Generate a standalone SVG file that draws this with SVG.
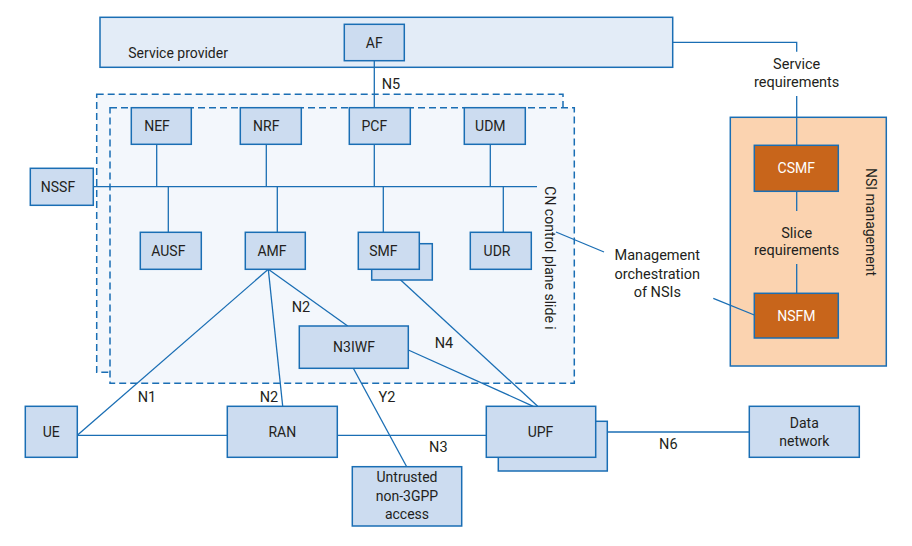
<svg xmlns="http://www.w3.org/2000/svg" width="912" height="546" viewBox="0 0 912 546">
<style>
  text { font-family: Roboto, "Liberation Sans", sans-serif; fill: #231f20; }
  .lbl { font-size: 14px; text-anchor: middle; }
  .t { font-size: 14.5px; text-anchor: middle; }
  .box { fill: #ccdcf0; stroke: #1a6eb4; stroke-width: 1.5; }
  .org { fill: #c8651b; stroke: #1a6eb4; stroke-width: 1.5; }
  .wt { fill: #ffffff; font-size: 14px; text-anchor: middle; }
  .dash { fill: #f3f7fc; stroke: #1a6eb4; stroke-width: 1.5; stroke-dasharray: 7 4; }
  .ln { stroke: #1a6eb4; stroke-width: 1.3; fill: none; }
</style>

<g id="service-provider">
  <rect x="100" y="17.3" width="572.7" height="50" fill="#e3ecf7" stroke="#1a6eb4" stroke-width="1.5"/>
  <text x="128.3" y="57.5" style="font-size:14px">Service provider</text>
</g>

<g id="cn-slice">
  <rect class="dash" x="96.7" y="94.3" width="466.3" height="278"/>
  <rect class="dash" x="110" y="107.7" width="464.3" height="275.6"/>
  <text class="lbl" transform="translate(545,258) rotate(90)" x="0" y="0">CN control plane slide i</text>
</g>

<g id="nsi-management">
  <rect x="730.3" y="117.3" width="156" height="248.7" fill="#fbd3b0" stroke="#1a6eb4" stroke-width="1.5"/>
  <text class="lbl" transform="translate(865.5,222) rotate(90)" x="0" y="0">NSI management</text>
</g>

<g id="connectors">
  <!-- N5 -->
  <line class="ln" x1="374.3" y1="60.7" x2="374.3" y2="107.7"/>
  <!-- bus -->
  <line class="ln" x1="93.3" y1="186.7" x2="537" y2="186.7"/>
  <line class="ln" x1="156.7" y1="144.3" x2="156.7" y2="186.7"/>
  <line class="ln" x1="266.3" y1="144.3" x2="266.3" y2="186.7"/>
  <line class="ln" x1="374.3" y1="144.3" x2="374.3" y2="186.7"/>
  <line class="ln" x1="490.3" y1="144.3" x2="490.3" y2="186.7"/>
  <line class="ln" x1="168.3" y1="186.7" x2="168.3" y2="232.3"/>
  <line class="ln" x1="277.3" y1="186.7" x2="277.3" y2="232.3"/>
  <line class="ln" x1="383.3" y1="186.7" x2="383.3" y2="232.3"/>
  <line class="ln" x1="503.3" y1="186.7" x2="503.3" y2="232.3"/>
  <!-- AMF lines -->
  <line class="ln" x1="268.3" y1="269.3" x2="77.3" y2="435.3"/>
  <line class="ln" x1="268.3" y1="269.3" x2="282.7" y2="406.3"/>
  <line class="ln" x1="268.3" y1="269.3" x2="347.7" y2="326"/>
  <!-- SMF to UPF (N4) -->
  <line class="ln" x1="389" y1="269.3" x2="537.7" y2="406.3"/>
  <!-- N3IWF to UPF -->
  <line class="ln" x1="408.3" y1="350" x2="533.3" y2="406.3"/>
  <!-- Y2 -->
  <line class="ln" x1="353.3" y1="368.3" x2="406.7" y2="466.7"/>
  <!-- UE-RAN, RAN-UPF -->
  <line class="ln" x1="77.3" y1="435.3" x2="227.3" y2="435.3"/>
  <line class="ln" x1="337.3" y1="435.3" x2="486.3" y2="435.3"/>
  <!-- N6 -->
  <line class="ln" x1="595.7" y1="432" x2="749.3" y2="432"/>
  <!-- service provider to CSMF -->
  <polyline class="ln" points="672.7,42.3 796.7,42.3 796.7,51.7"/>
  <line class="ln" x1="796.7" y1="96" x2="796.7" y2="145.3"/>
  <line class="ln" x1="796.7" y1="191.3" x2="796.7" y2="211"/>
  <line class="ln" x1="796.7" y1="264" x2="796.7" y2="293.3"/>
  <!-- management leaders -->
  <line class="ln" x1="556" y1="232" x2="604" y2="252"/>
  <line class="ln" x1="713.3" y1="298.3" x2="754.3" y2="315"/>
</g>

<g id="labels">
  <text class="t" x="391" y="88.5">N5</text>
  <text class="t" x="301" y="312">N2</text>
  <text class="t" x="444" y="348">N4</text>
  <text class="t" x="147" y="402">N1</text>
  <text class="t" x="269" y="402">N2</text>
  <text class="t" x="387" y="402">Y2</text>
  <text class="t" x="438.3" y="452">N3</text>
  <text class="t" x="668.3" y="448.5">N6</text>
  <text class="t" x="796.7" y="68.5">Service</text>
  <text class="t" x="796.7" y="86.8">requirements</text>
  <text class="t" x="796.7" y="238">Slice</text>
  <text class="t" x="796.7" y="255.3">requirements</text>
  <text class="t" x="657.3" y="260.2">Management</text>
  <text class="t" x="657.3" y="279">orchestration</text>
  <text class="t" x="657.3" y="297">of NSIs</text>
</g>

<g id="AF"><rect class="box" x="344.3" y="24.3" width="60" height="36.4"/><text class="lbl" x="374.3" y="47.5">AF</text></g>
<g id="NSSF"><rect class="box" x="30.3" y="168.3" width="63" height="37"/><text class="lbl" x="58" y="191.8">NSSF</text></g>
<g id="NEF"><rect class="box" x="131.3" y="107.7" width="60" height="36.6"/><text class="lbl" x="157" y="131">NEF</text></g>
<g id="NRF"><rect class="box" x="240.3" y="107.7" width="61" height="36.6"/><text class="lbl" x="266.3" y="131">NRF</text></g>
<g id="PCF"><rect class="box" x="349.3" y="107.7" width="61" height="36.6"/><text class="lbl" x="374.3" y="131">PCF</text></g>
<g id="UDM"><rect class="box" x="464.3" y="107.7" width="61" height="36.6"/><text class="lbl" x="490.3" y="131">UDM</text></g>
<g id="AUSF"><rect class="box" x="140.3" y="232.3" width="61" height="37"/><text class="lbl" x="168.3" y="255.8">AUSF</text></g>
<g id="AMF"><rect class="box" x="245.3" y="232.3" width="60" height="37"/><text class="lbl" x="272" y="255.8">AMF</text></g>
<g id="SMF">
  <rect class="box" x="371.7" y="243.7" width="60.6" height="36.3"/>
  <rect class="box" x="358.3" y="232.3" width="61" height="37"/>
  <text class="lbl" x="383.3" y="255.8">SMF</text>
</g>
<g id="UDR"><rect class="box" x="470.3" y="232.3" width="61" height="37"/><text class="lbl" x="497" y="255.8">UDR</text></g>
<g id="N3IWF"><rect class="box" x="299.3" y="326" width="109" height="42.3"/><text class="lbl" x="354" y="352">N3IWF</text></g>
<g id="CSMF"><rect class="org" x="754.3" y="145.3" width="84" height="46"/><text class="wt" x="796.3" y="173.3">CSMF</text></g>
<g id="NSFM"><rect class="org" x="754.3" y="293.3" width="84" height="44.7"/><text class="wt" x="796.3" y="320.7">NSFM</text></g>
<g id="UE"><rect class="box" x="25.3" y="406.3" width="52" height="51"/><text class="lbl" x="51.3" y="437">UE</text></g>
<g id="RAN"><rect class="box" x="227.3" y="406.3" width="110" height="51"/><text class="lbl" x="282.3" y="437">RAN</text></g>
<g id="UPF">
  <rect class="box" x="498.3" y="421.3" width="109" height="49.7"/>
  <rect class="box" x="486.3" y="406.3" width="109.4" height="51"/>
  <text class="lbl" x="540.5" y="437">UPF</text>
</g>
<g id="Data-network"><rect class="box" x="749.3" y="406.3" width="110" height="51"/><text class="lbl" x="804.3" y="427.5">Data</text><text class="lbl" x="804.3" y="446">network</text></g>
<g id="Untrusted"><rect class="box" x="352.3" y="466.7" width="109.4" height="59.3"/><text class="lbl" x="407" y="482">Untrusted</text><text class="lbl" x="407" y="501">non-3GPP</text><text class="lbl" x="407" y="519">access</text></g>
</svg>
